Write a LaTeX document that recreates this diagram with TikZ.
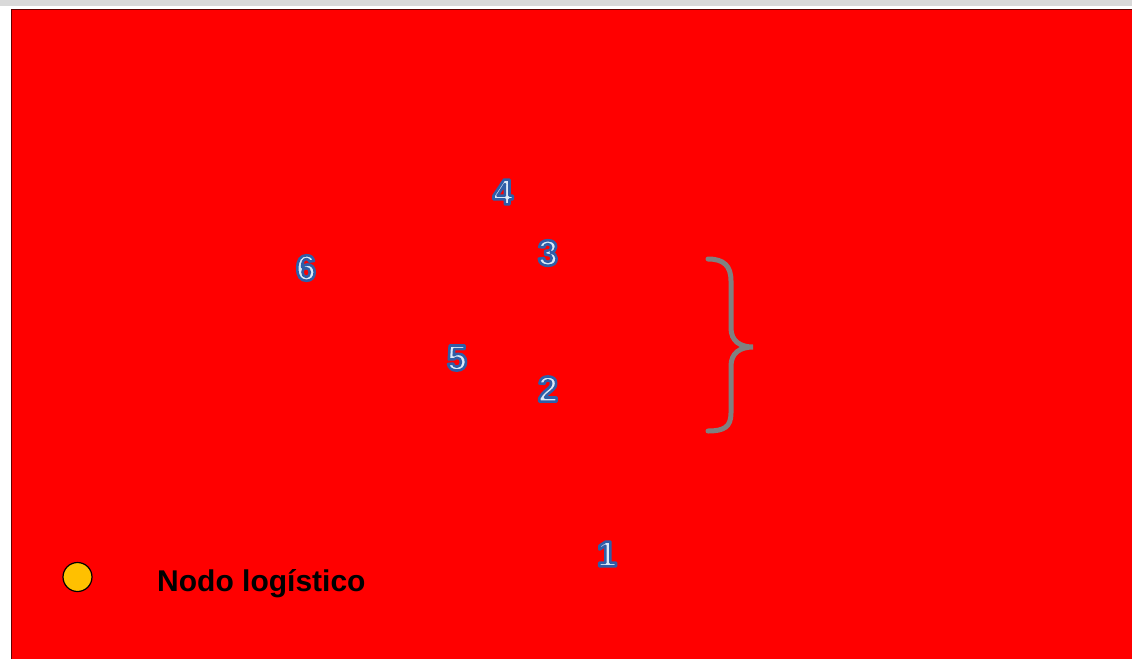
\documentclass[tikz,border=0pt]{standalone}
\usepackage{fontspec}
\setmainfont{Liberation Sans}
\definecolor{bgred}{HTML}{FF0000}
\definecolor{topgray}{HTML}{D9D9D9}
\definecolor{digitfill}{HTML}{DCE8F6}
\definecolor{bracegray}{HTML}{808080}
\definecolor{nodeyellow}{HTML}{FFC000}
\newcommand{\outlinedigit}[1]{\textcolor{digitfill}{\special{pdf:literal direct 2 Tr 2.6 w 1 j 0.184 0.369 0.659 RG}#1\special{pdf:literal direct 0 Tr}}}
\begin{document}
\begin{tikzpicture}[x=1pt,y=-1pt,
  digit/.style={inner sep=0pt, font=\fontsize{36}{36}\selectfont\bfseries},
  legendtext/.style={inner sep=0pt, anchor=base west, font=\fontsize{30}{30}\selectfont\bfseries}]
\useasboundingbox (0,0) rectangle (1132,659);
\fill[white] (0,0) rectangle (1132,659);
\fill[topgray] (0,0) rectangle (1132,6);
\fill[bgred] (11,9) rectangle (1132,659);
\draw[black!60!red, line width=0.6pt] (11,659) -- (11,9) -- (1132,9);
\node[digit] (n4) at (503,192) {\outlinedigit{4}};
\node[digit] (n3) at (548,253) {\outlinedigit{3}};
\node[digit] (n6) at (306,268) {\outlinedigit{6}};
\node[digit] (n5) at (457,358) {\outlinedigit{5}};
\node[digit] (n2) at (548,389) {\outlinedigit{2}};
\node[digit] (n1) at (607,554) {\outlinedigit{1}};
\draw[bracegray, line width=5pt, line cap=round]
  (708,259) .. controls (724,259) and (731,266) .. (731,281) -- (731,328)
  .. controls (731,341) and (740,347) .. (753,347)
  .. controls (740,347) and (731,353) .. (731,366) -- (731,413)
  .. controls (731,427) and (724,431) .. (708,431);
\node[circle, draw=black, line width=1.2pt, fill=nodeyellow, minimum size=29pt, inner sep=0pt] (legendnode) at (77.5,577) {};
\node[legendtext] (legendlabel) at (157,591) {Nodo logístico};
\end{tikzpicture}
\end{document}
